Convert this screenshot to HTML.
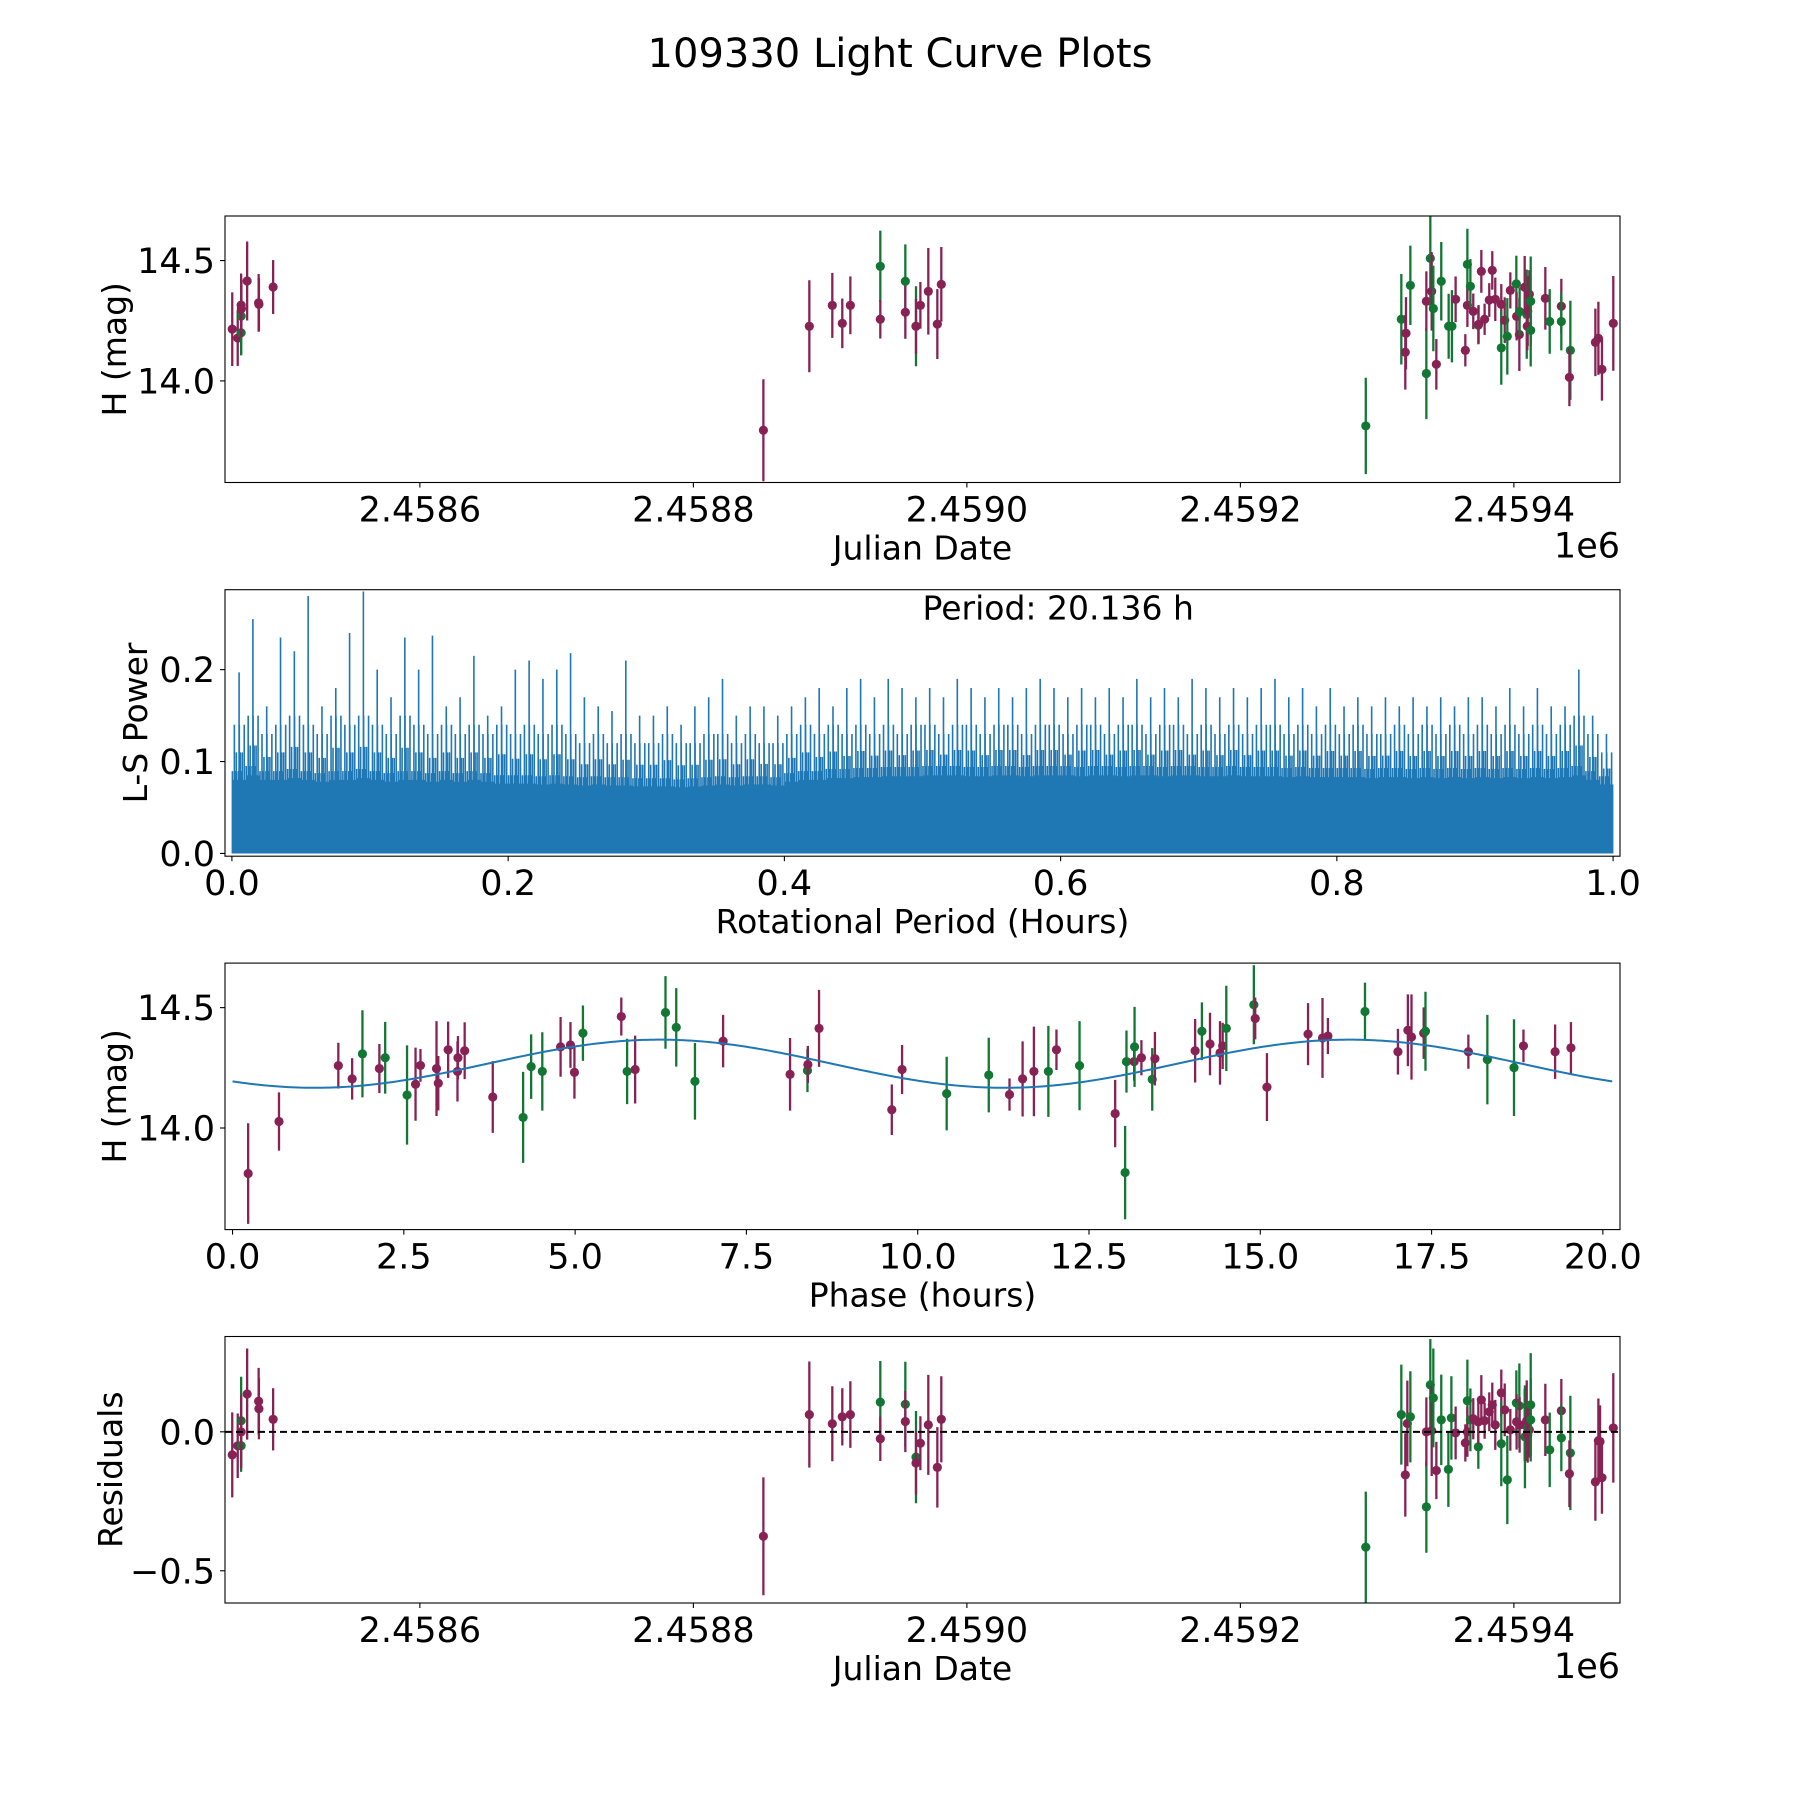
<!DOCTYPE html>
<html><head><meta charset="utf-8"><style>
html,body{margin:0;padding:0;background:#fff;}
svg{display:block;font-family:"DejaVu Sans","Liberation Sans",sans-serif;}
</style></head><body>
<svg id="fig" width="1800" height="1800" viewBox="0 0 1800 1800" xmlns="http://www.w3.org/2000/svg">
<rect x="0" y="0" width="1800" height="1800" fill="#fff"/>
<text x="900" y="67" font-size="40" text-anchor="middle">109330 Light Curve Plots</text>
</svg>
<script>
// ---------- Panel 1: light curve data ----------
const lcJD = [2458462.8,2458466.8,2458469.3,2458469.3,2458469.3,2458469.5,2458473.7,2458482.1,2458482.3,2458492.7,
2458851.2,2458884.8,2458901.6,2458908.9,2458914.8,2458936.7,2458936.7,2458955.0,2458955.0,2458962.8,2458962.8,2458966.0,2458971.8,2458978.4,2458981.3,
2459291.7,
2459317.7,2459321.1,2459320.6,2459324.3,2459336.0,2459336.0,2459338.9,2459339.9,2459341.1,2459343.3,2459346.9,2459352.3,2459354.7,2459357.4,2459364.5,2459366.0,2459366.0,2459368.2,2459370.3,2459374.0,2459374.2,2459376.2,2459378.6,2459382.0,2459384.2,2459386.4,2459390.8,2459390.8,2459393.3,2459395.2,2459397.4,2459401.8,2459402.0,2459404.0,2459404.2,2459407.9,2459409.4,2459410.1,2459409.8,2459411.3,2459412.3,2459412.3,2459423.0,2459426.2,2459434.7,2459434.7,2459441.3,2459440.6,2459459.6,2459461.8,2459464.4,2459472.7];
const lcMag = [14.215,14.178,14.200,14.269,14.315,14.300,14.415,14.324,14.318,14.390,
13.795,14.227,14.314,14.239,14.314,14.476,14.256,14.414,14.285,14.227,14.227,14.314,14.372,14.236,14.401,
13.813,
14.256,14.198,14.119,14.397,14.031,14.331,14.509,14.372,14.301,14.069,14.414,14.227,14.227,14.339,14.127,14.484,14.314,14.393,14.289,14.231,14.235,14.455,14.256,14.336,14.459,14.339,14.318,14.137,14.252,14.185,14.376,14.403,14.268,14.193,14.288,14.389,14.277,14.290,14.227,14.360,14.331,14.210,14.343,14.247,14.310,14.247,14.127,14.015,14.160,14.177,14.048,14.239];
const lcErr = [0.153,0.116,0.094,0.158,0.131,0.12,0.164,0.12,0.11,0.112,
0.212,0.191,0.135,0.103,0.12,0.148,0.08,0.153,0.11,0.166,0.114,0.097,0.18,0.145,0.155,
0.2,
0.188,0.15,0.155,0.165,0.19,0.124,0.2,0.163,0.178,0.105,0.163,0.135,0.15,0.095,0.067,0.148,0.09,0.113,0.074,0.079,0.08,0.089,0.065,0.07,0.08,0.09,0.084,0.153,0.095,0.159,0.075,0.117,0.1,0.152,0.1,0.13,0.185,0.145,0.1,0.1,0.186,0.15,0.13,0.134,0.114,0.12,0.206,0.12,0.14,0.152,0.13,0.197];
const lcBand = ['m','m','g','g','m','m','m','m','m','m',
'm','m','m','m','m','g','m','g','m','g','m','m','m','m','m',
'g',
'g','m','m','g','g','m','g','m','g','m','g','g','g','m','m','g','m','g','m','g','m','m','m','m','m','m','m','g','m','g','m','g','m','m','g','m','g','m','m','m','g','g','m','g','m','g','g','m','m','m','m','m'];

// ---------- Panel 2: periodogram (per 0.01-hour bin) ----------
const lsPeak = [0.197,0.255,0.16,0.235,0.22,0.28,0.16,0.18,0.24,0.285,
0.2,0.17,0.235,0.2,0.237,0.16,0.17,0.215,0.15,0.16,
0.2,0.21,0.19,0.2,0.218,0.17,0.16,0.155,0.21,0.15,
0.15,0.16,0.14,0.16,0.17,0.19,0.15,0.16,0.16,0.15,
0.16,0.17,0.18,0.16,0.18,0.19,0.17,0.19,0.18,0.17,
0.18,0.17,0.19,0.18,0.17,0.18,0.17,0.18,0.19,0.18,
0.17,0.18,0.17,0.18,0.17,0.19,0.17,0.18,0.17,0.19,
0.18,0.17,0.18,0.17,0.18,0.19,0.17,0.18,0.16,0.18,
0.16,0.17,0.16,0.17,0.16,0.17,0.16,0.17,0.16,0.17,
0.17,0.16,0.18,0.16,0.18,0.16,0.16,0.2,0.15,0.13];
const lsMid = [0.14,0.15,0.13,0.14,0.15,0.14,0.13,0.15,0.14,0.15,
0.14,0.13,0.15,0.14,0.13,0.14,0.13,0.14,0.13,0.14,
0.13,0.14,0.13,0.14,0.13,0.12,0.13,0.12,0.13,0.12,
0.12,0.13,0.12,0.12,0.13,0.13,0.12,0.13,0.12,0.12,
0.13,0.14,0.13,0.14,0.13,0.14,0.13,0.14,0.13,0.14,
0.14,0.13,0.14,0.14,0.13,0.14,0.14,0.13,0.14,0.14,
0.13,0.14,0.14,0.13,0.14,0.14,0.13,0.14,0.14,0.13,
0.14,0.13,0.14,0.13,0.14,0.14,0.13,0.14,0.13,0.14,
0.13,0.14,0.13,0.13,0.14,0.13,0.14,0.13,0.14,0.13,
0.14,0.13,0.14,0.13,0.14,0.13,0.14,0.15,0.13,0.11];
const lsBase = [0.08,0.085,0.08,0.08,0.082,0.08,0.078,0.08,0.08,0.082,
0.08,0.078,0.08,0.08,0.078,0.08,0.078,0.08,0.078,0.076,
0.076,0.076,0.075,0.076,0.075,0.074,0.075,0.074,0.074,0.073,
0.073,0.073,0.072,0.073,0.074,0.075,0.074,0.075,0.075,0.074,
0.078,0.08,0.08,0.082,0.082,0.083,0.083,0.084,0.084,0.084,
0.085,0.085,0.085,0.084,0.084,0.085,0.085,0.084,0.085,0.085,
0.085,0.084,0.085,0.085,0.084,0.085,0.085,0.084,0.085,0.085,
0.084,0.084,0.085,0.084,0.084,0.084,0.083,0.084,0.083,0.083,
0.083,0.083,0.082,0.083,0.083,0.082,0.083,0.082,0.083,0.082,
0.083,0.082,0.083,0.082,0.083,0.082,0.083,0.085,0.08,0.075];

// ---------- Panel 3: phased light curve ----------
const phHours = [0.228,0.678,1.544,1.746,1.896,2.143,2.228,2.547,2.671,2.743,2.977,3.003,3.147,3.283,3.290,3.388,3.798,4.241,4.358,4.521,4.788,4.932,4.990,5.114,5.674,5.759,5.876,6.319,6.476,6.749,7.160,8.137,8.391,8.397,8.560,9.622,9.772,
10.423,11.037,11.340,11.531,11.696,11.907,12.025,12.362,12.882,13.027,13.047,13.159,13.165,13.265,13.423,13.462,14.049,14.148,14.266,14.412,14.451,14.504,14.906,14.926,15.097,15.697,15.908,15.987,16.528,17.009,17.154,17.207,17.385,17.411,18.037,18.314,18.703,18.841,19.303,19.534];
const phMag = [13.811,14.027,14.259,14.204,14.308,14.247,14.292,14.137,14.182,14.260,14.247,14.186,14.325,14.235,14.292,14.321,14.129,14.044,14.255,14.235,14.337,14.345,14.231,14.394,14.463,14.235,14.243,14.480,14.418,14.194,14.361,14.223,14.239,14.264,14.414,14.076,14.243,
14.143,14.220,14.139,14.204,14.235,14.235,14.325,14.259,14.060,13.815,14.276,14.276,14.337,14.292,14.202,14.288,14.321,14.402,14.349,14.312,14.341,14.414,14.512,14.455,14.170,14.390,14.374,14.382,14.484,14.317,14.406,14.378,14.394,14.402,14.317,14.284,14.251,14.341,14.317,14.333];
const phErr = [0.209,0.121,0.095,0.086,0.181,0.102,0.149,0.206,0.152,0.068,0.197,0.113,0.117,0.125,0.090,0.118,0.149,0.189,0.134,0.163,0.124,0.095,0.109,0.115,0.079,0.136,0.141,0.151,0.163,0.159,0.109,0.151,0.090,0.077,0.160,0.105,0.102,
0.153,0.155,0.067,0.156,0.186,0.189,0.084,0.185,0.140,0.194,0.129,0.079,0.166,0.073,0.130,0.111,0.132,0.120,0.130,0.132,0.096,0.177,0.164,0.087,0.141,0.129,0.166,0.075,0.120,0.095,0.149,0.177,0.107,0.164,0.071,0.186,0.201,0.068,0.113,0.107];
const phBand = ['m','m','m','m','g','m','g','g','m','m','m','m','m','m','m','m','m','g','g','g','m','m','m','g','m','g','m','g','g','g','m','m','g','m','m','m','m',
'g','g','m','m','m','g','m','g','m','g','g','m','g','m','g','m','m','g','m','m','m','g','g','m','m','m','m','m','g','m','m','m','m','g','m','g','g','m','m','m'];
const modelMean = 14.267, modelAmp = 0.1, modelPhase0 = 1.2, modelCycle = 10.068, periodHours = 20.136;

// ---------- Panel 4: residuals ----------
const resJD = [2458462.8,2458466.8,2458469.3,2458469.3,2458469.3,2458473.7,2458482.1,2458482.3,2458492.7,
2458851.2,2458884.8,2458901.6,2458908.9,2458914.8,2458936.7,2458936.7,2458955.0,2458955.0,2458962.8,2458962.8,2458966.0,2458971.8,2458978.4,2458981.3,
2459291.7,
2459317.7,2459320.6,2459322.1,2459324.3,2459336.0,2459336.0,2459338.9,2459339.9,2459341.1,2459343.3,2459346.9,2459352.1,2459354.3,2459357.4,2459364.5,2459366.0,2459366.0,2459368.2,2459370.3,2459374.0,2459374.0,2459376.2,2459378.6,2459382.0,2459384.2,2459386.4,2459390.8,2459390.8,2459393.3,2459395.2,2459397.4,2459401.8,2459402.0,2459404.0,2459404.2,2459407.9,2459408.1,2459409.4,2459410.1,2459411.3,2459412.3,2459412.3,2459423.0,2459426.2,2459434.7,2459434.7,2459441.3,2459440.6,2459459.6,2459461.8,2459463.0,2459464.4,2459472.7];
const resVal = [-0.083,-0.05,-0.05,0.04,0.0,0.136,0.11,0.083,0.045,
-0.376,0.062,0.029,0.054,0.062,0.107,-0.025,0.099,0.037,-0.091,-0.112,-0.041,0.025,-0.128,0.045,
-0.415,
0.062,-0.155,0.030,0.054,-0.270,0.0,0.169,0.004,0.122,-0.139,0.043,-0.135,0.050,-0.004,-0.040,0.112,0.0,0.043,0.047,-0.054,0.036,0.115,0.040,0.072,0.097,0.025,0.140,-0.043,0.079,-0.173,0.007,0.104,0.036,0.094,0.025,0.025,-0.018,0.040,-0.011,0.007,0.097,0.043,0.043,-0.065,0.076,-0.022,-0.076,-0.151,-0.180,-0.032,-0.035,-0.165,0.014];
const resErr = [0.153,0.116,0.094,0.158,0.131,0.164,0.12,0.11,0.112,
0.212,0.191,0.135,0.103,0.12,0.148,0.08,0.153,0.11,0.166,0.114,0.097,0.18,0.145,0.155,
0.2,
0.18,0.15,0.154,0.164,0.165,0.124,0.165,0.163,0.178,0.103,0.163,0.135,0.15,0.095,0.067,0.148,0.09,0.113,0.074,0.079,0.08,0.089,0.065,0.07,0.08,0.09,0.084,0.153,0.095,0.159,0.075,0.117,0.1,0.152,0.1,0.13,0.185,0.145,0.1,0.1,0.186,0.15,0.13,0.134,0.114,0.12,0.206,0.12,0.14,0.152,0.13,0.13,0.197];
const resBand = ['m','m','g','g','m','m','m','m','m',
'm','m','m','m','m','g','m','g','m','g','m','m','m','m','m',
'g',
'g','m','m','g','g','m','g','m','g','m','g','g','g','m','m','g','m','g','m','g','m','m','m','m','m','m','m','g','m','g','m','g','m','g','m','m','g','m','m','m','g','g','m','g','m','g','g','m','m','m','m','m','m'];

const jdTicks = [2458600,2458800,2459000,2459200,2459400];
const jdTickLabels = ['2.4586','2.4588','2.4590','2.4592','2.4594'];
const magTicks = [14.0,14.5];
const magTickLabels = ['14.0','14.5'];
const lsXTicks = [0,0.2,0.4,0.6,0.8,1.0];
const lsXTickLabels = ['0.0','0.2','0.4','0.6','0.8','1.0'];
const lsYTicks = [0,0.1,0.2];
const lsYTickLabels = ['0.0','0.1','0.2'];
const phTicks = [0,2.5,5,7.5,10,12.5,15,17.5,20];
const phTickLabels = ['0.0','2.5','5.0','7.5','10.0','12.5','15.0','17.5','20.0'];
const resTicks = [-0.5,0.0];
const resTickLabels = ['\u22120.5','0.0'];

const NS = 'http://www.w3.org/2000/svg';
const svg = document.getElementById('fig');
const COL = {m:'#882255', g:'#117733'};
const L = 225, R = 1620, H = 266.5;
const TOPS = [216, 589.7, 963.1, 1336.5];
const TF = 35, LF = 33;

function mk(tag, attrs, parent){
  const e = document.createElementNS(NS, tag);
  for (const k in attrs) e.setAttribute(k, attrs[k]);
  (parent || svg).appendChild(e);
  return e;
}
function lin(d0,d1,r0,r1){ return v => r0 + (v-d0)/(d1-d0)*(r1-r0); }

function panel(idx, name, xdom, ydom){
  const top = TOPS[idx], bot = top + H;
  const g = mk('g', {});
  
  
  const clip = mk('clipPath', {id:'clip'+idx}, g);
  mk('rect', {x:L, y:top, width:R-L, height:H}, clip);
  const plot = mk('g', {'clip-path':'url(#clip'+idx+')'}, g);
  
  
  return {g, plot, top, bot, x:lin(xdom[0],xdom[1],L,R), y:lin(ydom[0],ydom[1],bot,top)};
}
function frame(p){
  const f = mk('rect', {x:L, y:p.top, width:R-L, height:H, fill:'none', stroke:'#000', 'stroke-width':1.1}, p.g);
  
  
}
function xTicks(p, ticks, labels, axisName){
  const g = mk('g', {}, p.g);
  
  
  ticks.forEach((t,i)=>{
    const xx = p.x(t);
    mk('line', {x1:xx, x2:xx, y1:p.bot, y2:p.bot+5, stroke:'#000', 'stroke-width':1.1}, g);
    const tx = mk('text', {x:xx, y:p.bot+39, 'font-size':TF, 'text-anchor':'middle'}, g);
    
    
    tx.textContent = labels[i];
  });
}
function yTicks(p, ticks, labels, axisName){
  const g = mk('g', {}, p.g);
  
  
  ticks.forEach((t,i)=>{
    const yy = p.y(t);
    mk('line', {x1:L-5, x2:L, y1:yy, y2:yy, stroke:'#000', 'stroke-width':1.1}, g);
    const tx = mk('text', {x:L-10, y:yy+12.5, 'font-size':TF, 'text-anchor':'end'}, g);
    
    
    tx.textContent = labels[i];
  });
}
function xLabel(p, text, name){
  const t = mk('text', {x:(L+R)/2, y:p.bot+77, 'font-size':LF, 'text-anchor':'middle'}, p.g);
  
  
  t.textContent = text;
}
function yLabel(p, text, name, xc){
  const yc = (p.top+p.bot)/2;
  const t = mk('text', {x:xc, y:yc, 'font-size':LF, 'text-anchor':'middle', transform:'rotate(-90 '+xc+' '+yc+')'}, p.g);
  
  
  t.textContent = text;
}
function offsetLabel(p){
  const t = mk('text', {x:R, y:p.bot+75, 'font-size':TF, 'text-anchor':'end'}, p.g);
  
  
  t.textContent = '1e6';
}
function errPoints(p, xs, ys, es, bands, kind){
  xs.forEach((xv,i)=>{
    const c = COL[bands[i]];
    const px = p.x(xv);
    const bar = mk('line', {x1:px, x2:px, y1:p.y(ys[i]-es[i]), y2:p.y(ys[i]+es[i]), stroke:c, 'stroke-width':2.3}, p.plot);
    
    
    const dot = mk('circle', {cx:px, cy:p.y(ys[i]), r:4.6, fill:c}, p.plot);
    
    
  });
}

const JDDOM = [2458457.5, 2459477.6];
const MAGDOM = [13.578, 14.685];

// Panel 1
const p1 = panel(0, 'light-curve-panel', JDDOM, MAGDOM);
errPoints(p1, lcJD, lcMag, lcErr, lcBand, 'magnitude');
frame(p1);
xTicks(p1, jdTicks, jdTickLabels, 'x-axis-julian-date');
yTicks(p1, magTicks, magTickLabels, 'y-axis-magnitude');
xLabel(p1, 'Julian Date', 'x-axis-title');
yLabel(p1, 'H (mag)', 'y-axis-title', 126);
offsetLabel(p1);

// Panel 2
const p2 = panel(1, 'periodogram-panel', [-0.005, 1.005], [-0.003, 0.287]);
{
  const n = lsPeak.length, w = 1/n;
  let d = '';
  lsBase.forEach((b,i)=>{
    const x0 = p2.x(i*w), x1 = p2.x((i+1)*w);
    d += 'M'+x0+' '+p2.y(0)+'L'+x0+' '+p2.y(b*0.8)+'L'+x1+' '+p2.y(b*0.8)+'L'+x1+' '+p2.y(0)+'Z';
  });
  const area = mk('path', {d:d, fill:'#1f77b4'}, p2.plot);
  
  
  let dl = '';
  for (let i=0;i<n;i++){
    const x0 = i*w;
    for (let k=0;k<14;k++){
      const o = (k+0.5)/14;
      const v = (k%5===2) ? lsMid[i] : (k%3===0 ? lsBase[i]*1.12 : (k%2 ? lsBase[i] : (lsBase[i]+lsMid[i])/2));
      dl += 'M'+p2.x(x0+o*w)+' '+p2.y(0)+'V'+p2.y(v);
    }
    dl += 'M'+p2.x(x0+0.52*w)+' '+p2.y(0)+'V'+p2.y(lsPeak[i]);
  }
  const lines = mk('path', {d:dl, stroke:'#1f77b4', 'stroke-width':1.6, fill:'none'}, p2.plot);
  
  
}
frame(p2);
xTicks(p2, lsXTicks, lsXTickLabels, 'x-axis-period');
yTicks(p2, lsYTicks, lsYTickLabels, 'y-axis-power');
xLabel(p2, 'Rotational Period (Hours)', 'x-axis-title');
yLabel(p2, 'L-S Power', 'y-axis-title', 147);
{
  const t = mk('text', {x:p2.x(0.5), y:p2.top+30, 'font-size':LF}, p2.g);
  
  
  t.textContent = 'Period: 20.136 h';
}

// Panel 3
const p3 = panel(2, 'phased-light-curve-panel', [-0.11, 20.25], MAGDOM);
errPoints(p3, phHours, phMag, phErr, phBand, 'phased');
{
  let d = '';
  for (let i=0;i<=400;i++){
    const ph = periodHours*i/400;
    const v = modelMean - modelAmp*Math.cos(2*Math.PI*(ph-modelPhase0)/modelCycle);
    d += (i?'L':'M') + p3.x(ph) + ' ' + p3.y(v);
  }
  const m = mk('path', {d:d, stroke:'#1f77b4', 'stroke-width':2, fill:'none'}, p3.plot);
  
  
}
frame(p3);
xTicks(p3, phTicks, phTickLabels, 'x-axis-phase');
yTicks(p3, magTicks, magTickLabels, 'y-axis-magnitude');
xLabel(p3, 'Phase (hours)', 'x-axis-title');
yLabel(p3, 'H (mag)', 'y-axis-title', 126);

// Panel 4
const p4 = panel(3, 'residuals-panel', JDDOM, [-0.616, 0.343]);
errPoints(p4, resJD, resVal, resErr, resBand, 'residual');
{
  const z = mk('line', {x1:L, x2:R, y1:p4.y(0), y2:p4.y(0), stroke:'#000', 'stroke-width':2, 'stroke-dasharray':'7,4'}, p4.plot);
  
  
}
frame(p4);
xTicks(p4, jdTicks, jdTickLabels, 'x-axis-julian-date');
yTicks(p4, resTicks, resTickLabels, 'y-axis-residuals');
xLabel(p4, 'Julian Date', 'x-axis-title');
yLabel(p4, 'Residuals', 'y-axis-title', 122);
offsetLabel(p4);
</script>
</body></html>
